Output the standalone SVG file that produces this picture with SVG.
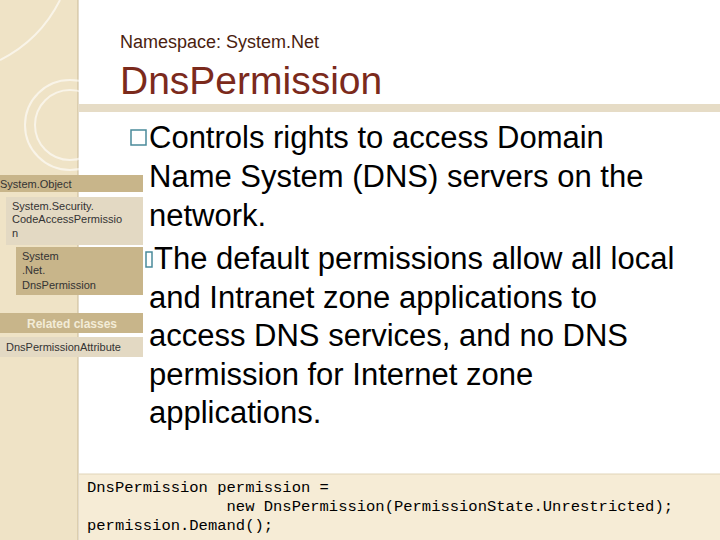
<svg xmlns="http://www.w3.org/2000/svg" width="720" height="540" viewBox="0 0 720 540">
<style>
.s{font-family:"Liberation Sans",Arial,sans-serif}
.b{font-family:"Liberation Sans",Arial,sans-serif;font-size:31px;fill:#000}
.c{font-family:"Liberation Mono","Courier New",monospace;font-size:15.5px;fill:#000}
.n{font-family:"Liberation Sans",Arial,sans-serif;font-size:11px;fill:#333}
</style>
<rect width="720" height="540" fill="#fff"/>
<rect x="0" y="0" width="78" height="540" fill="#efe3c6"/>
<line x1="78" y1="0" x2="78" y2="540" stroke="#c8b896"/>
<g fill="none" stroke="#fff" stroke-opacity="0.6" stroke-width="2">
<path d="M0 60 Q40 40 60 0"/>
<circle cx="70" cy="125" r="45"/>
<circle cx="70" cy="125" r="35"/>
</g>
<rect x="78" y="104" width="642" height="8" fill="#e6dcc6"/>
<text x="120" y="48" class="s" font-size="18" fill="#4a1e10">Namespace:  System.Net</text>
<text x="120" y="94" class="s" font-size="39" fill="#7b2a1c">DnsPermission</text>
<g id="classes">
<rect x="0" y="175" width="143" height="17" fill="#c8b58a"/>
<text x="0" y="188" class="n">System.Object</text>
<rect x="6" y="197" width="137" height="48" fill="#e3d9c3"/>
<text x="12" y="210" class="n">System.Security.</text>
<text x="12" y="223" class="n">CodeAccessPermissio</text>
<text x="12" y="237" class="n">n</text>
<rect x="16" y="247" width="127" height="48" fill="#c8b58a"/>
<text x="22" y="260" class="n">System</text>
<text x="22" y="274" class="n">.Net.</text>
<text x="22" y="289" class="n">DnsPermission</text>
<rect x="0" y="313" width="143" height="20" fill="#c8b58a"/>
<text x="72" y="328" class="s" font-size="12" font-weight="bold" fill="#f3ecd7" text-anchor="middle">Related classes</text>
<rect x="0" y="337" width="143" height="20" fill="#e3d9c3"/>
<text x="6" y="351" class="n">DnsPermissionAttribute</text>
</g>
<g id="bullets">
<rect x="131" y="130" width="15" height="15" fill="none" stroke="#4a8a9a" stroke-width="1.5"/>
<text x="149" y="148" class="b">Controls rights to access Domain</text>
<text x="149" y="187" class="b">Name System (DNS) servers on the</text>
<text x="149" y="226" class="b">network.</text>
<rect x="146" y="252" width="6" height="15" fill="none" stroke="#4a8a9a" stroke-width="1.5"/>
<text x="154" y="269" class="b">The default permissions allow all local</text>
<text x="149" y="308" class="b">and Intranet zone applications to</text>
<text x="149" y="346" class="b">access DNS services, and no DNS</text>
<text x="149" y="385" class="b">permission for Internet zone</text>
<text x="149" y="423" class="b">applications.</text>
</g>
<g id="code">
<rect x="79" y="474" width="641" height="66" fill="#f6ecd6"/>
<line x1="79" y1="474" x2="720" y2="474" stroke="#e0d4b8"/>
<text x="87" y="492" class="c">DnsPermission permission =</text>
<text x="87" y="511" class="c" xml:space="preserve">               new DnsPermission(PermissionState.Unrestricted);</text>
<text x="87" y="530" class="c">permission.Demand();</text>
</g>
</svg>
